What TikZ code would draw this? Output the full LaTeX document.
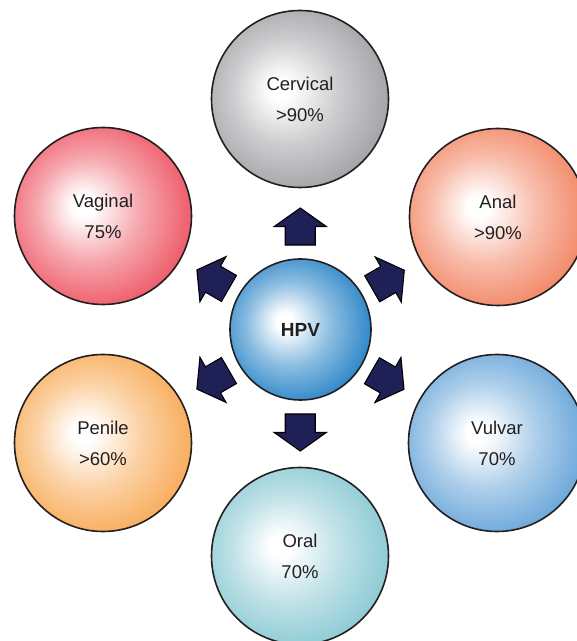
\documentclass[tikz,border=0pt]{standalone}
\usepackage{fontspec}
\setmainfont{Liberation Sans}
\usetikzlibrary{calc}
\definecolor{cgray}{HTML}{A2A3A6}
\definecolor{canal}{HTML}{F28766}
\definecolor{cvag}{HTML}{EE5A68}
\definecolor{cpen}{HTML}{F8AC5A}
\definecolor{cvul}{HTML}{6AA7D9}
\definecolor{coral}{HTML}{8CCAD4}
\definecolor{chpv}{HTML}{2C86C8}
\definecolor{arrfill}{HTML}{1F2156}
\definecolor{ink}{HTML}{231F20}
\newcommand\mkballshade[2]{\pgfdeclareradialshading{#1}{\pgfpoint{-6bp}{3bp}}{color(0bp)=(white);color(3bp)=(white);color(15bp)=(#2!55!white);color(28bp)=(#2);color(45bp)=(#2)}}
\mkballshade{cervshade}{cgray}
\mkballshade{analshade}{canal}
\mkballshade{vagshade}{cvag}
\mkballshade{penshade}{cpen}
\mkballshade{vulshade}{cvul}
\mkballshade{oralshade}{coral}
\mkballshade{hpvshade}{chpv}
\tikzset{
  bubble/.style={circle, draw=ink, line width=1.6pt, minimum size=177pt, inner sep=0pt,
    shade, align=center, text=ink, font=\fontsize{18.5}{31}\selectfont},
  hub/.style={bubble, minimum size=141pt, font=\fontsize{19}{23}\selectfont\bfseries},
  arrowshape/.style={fill=arrfill, draw=black, line width=1.1pt, line join=miter},
  blockarr/.pic={\draw[arrowshape] (-18.5,-15) -- (0,-15) -- (0,-26) -- (18.5,0) -- (0,26) -- (0,15) -- (-18.5,15) -- cycle;}
}
\begin{document}
\begin{tikzpicture}[x=1pt,y=1pt]
\useasboundingbox (0,0) rectangle (577,641);
\clip (0,0) rectangle (577,641);
\node[hub, shading=hpvshade] (hpv) at (300.5,311.5) {HPV};
\node[bubble, shading=cervshade] (cerv) at (300,542) {Cervical\\>90\%};
\node[bubble, shading=analshade] (anal) at (498,424) {Anal\\>90\%};
\node[bubble, shading=vagshade] (vag) at (103,425) {Vaginal\\75\%};
\node[bubble, shading=penshade] (pen) at (103,198) {Penile\\>60\%};
\node[bubble, shading=vulshade] (vul) at (497,198) {Vulvar\\70\%};
\node[bubble, shading=oralshade] (oral) at (300,85) {Oral\\70\%};
\pic[rotate=90] at ($(hpv)!103pt!(cerv)$) {blockarr};
\pic[rotate=-90] at ($(hpv)!103pt!(oral)$) {blockarr};
\pic[rotate=30] at ($(hpv)!101pt!(anal)$) {blockarr};
\pic[rotate=150] at ($(hpv)!101pt!(vag)$) {blockarr};
\pic[rotate=210] at ($(hpv)!101pt!(pen)$) {blockarr};
\pic[rotate=-30] at ($(hpv)!101pt!(vul)$) {blockarr};
\end{tikzpicture}
\end{document}
